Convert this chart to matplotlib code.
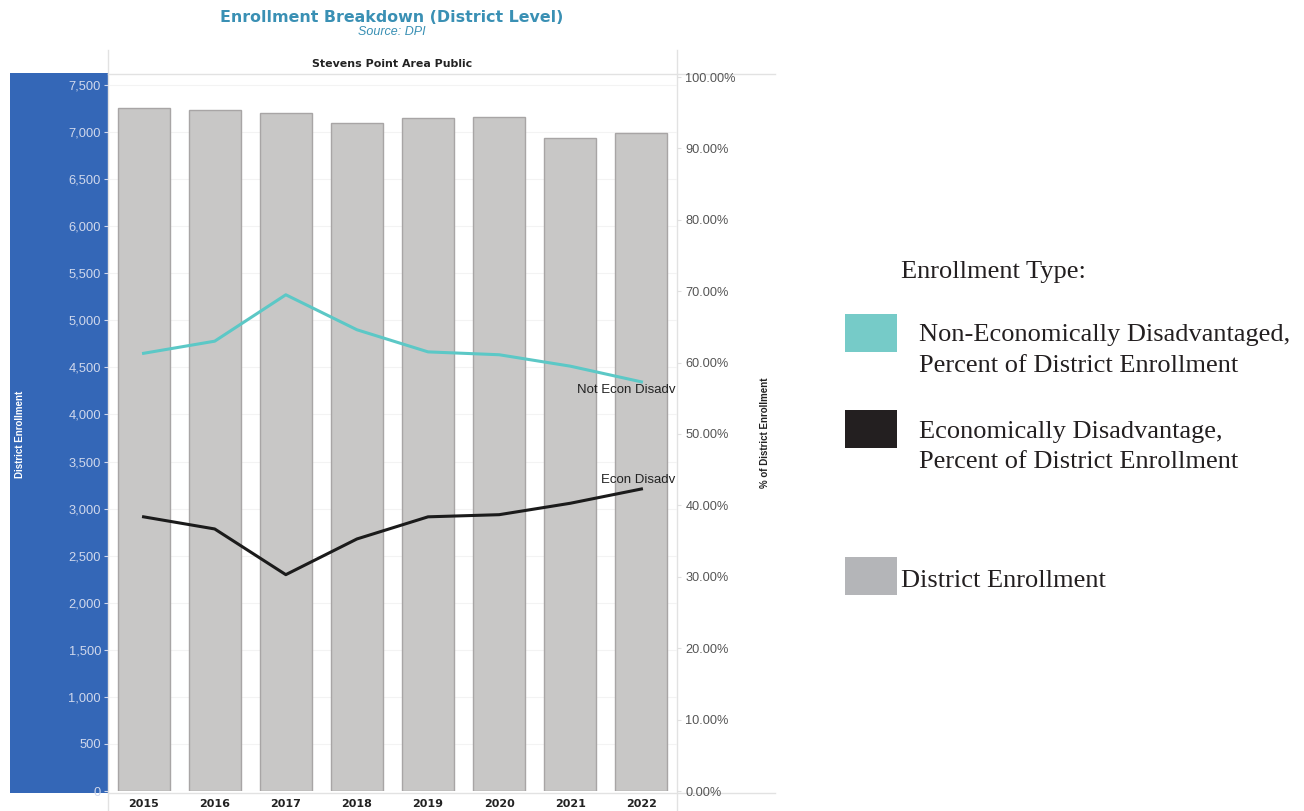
import matplotlib
matplotlib.use("Agg")
import matplotlib.pyplot as plt
from matplotlib.patches import Rectangle
from matplotlib.lines import Line2D
from matplotlib.ticker import FuncFormatter

years = ["2015", "2016", "2017", "2018", "2019", "2020", "2021", "2022"]
enrollment = [7256, 7234, 7202, 7096, 7149, 7160, 6937, 6990]
not_econ_pct = [61.3, 63.0, 69.5, 64.6, 61.5, 61.1, 59.5, 57.3]
econ_pct = [38.4, 36.7, 30.3, 35.3, 38.4, 38.7, 40.3, 42.3]
left_ticks = list(range(0, 7501, 500))
right_ticks = list(range(0, 101, 10))

plt.rcParams["font.family"] = ["Liberation Sans", "DejaVu Sans"]
BOLD = ["DejaVu Sans"]
NARROW = ["Liberation Sans Narrow", "Liberation Sans", "DejaVu Sans"]

W, H = 1304, 811
fig = plt.figure(figsize=(W / 100, H / 100), dpi=100)
fig.patch.set_facecolor("white")

def fx(px):
    return px / W

def fy(py):
    return 1 - py / H

# blue panel for left axis
fig.add_artist(Rectangle((fx(10), fy(793)), fx(108) - fx(10), fy(73) - fy(793),
                         transform=fig.transFigure, facecolor="#3467b7",
                         edgecolor="none", zorder=-1))
# header frame
light = "#e2e2e2"
fig.add_artist(Line2D([fx(108), fx(108)], [fy(50), fy(811)], transform=fig.transFigure,
                      color=light, lw=1, zorder=-1))
fig.add_artist(Line2D([fx(677), fx(677)], [fy(50), fy(811)], transform=fig.transFigure,
                      color=light, lw=1, zorder=-1))
fig.add_artist(Line2D([fx(108), fx(775)], [fy(74), fy(74)], transform=fig.transFigure,
                      color=light, lw=1, zorder=-1))
fig.add_artist(Line2D([fx(108), fx(775)], [fy(793), fy(793)], transform=fig.transFigure,
                      color=light, lw=1, zorder=-1))

ax = fig.add_axes([fx(108), fy(791), fx(677) - fx(108), fy(75) - fy(791)])
x = list(range(len(years)))
ax.bar(x, enrollment, width=0.73, color="#c8c7c6", edgecolor="#a8a5a5", linewidth=1, zorder=2)
ax.set_xlim(-0.5, len(years) - 0.5)
ax.set_ylim(0, 7500 * 716 / 706)
ax.set_yticks(left_ticks)
ax.yaxis.set_major_formatter(FuncFormatter(lambda v, p: f"{int(v):,}"))
ax.tick_params(axis="y", colors="#d0d8ec", labelsize=9.3, length=3, width=0.8, pad=2)
ax.set_xticks(x)
ax.set_xticklabels(years, fontweight="bold", fontsize=8, family=BOLD)
ax.tick_params(axis="x", length=0, pad=6, labelcolor="#222222")
for s in ax.spines.values():
    s.set_visible(False)
ax.grid(axis="y", color="#f3f3f3", lw=0.8, zorder=0)
ax.set_axisbelow(True)
ax.patch.set_alpha(0)

ax2 = ax.twinx()
ax2.set_ylim(0, 100 * 716 / 714)
ax2.plot(x, not_econ_pct, color="#5cc8c6", lw=2.2, zorder=3)
ax2.plot(x, econ_pct, color="#1b1b1b", lw=2.2, zorder=3)
ax2.set_yticks(right_ticks)
ax2.yaxis.set_major_formatter(FuncFormatter(lambda v, p: f"{v:.2f}%"))
ax2.tick_params(axis="y", colors="#e0e0e0", labelcolor="#555555", labelsize=9.2,
                length=3, width=0.8, pad=3)
for s in ax2.spines.values():
    s.set_visible(False)
ax2.text(len(years) - 0.52, not_econ_pct[-1] - 1.1, "Not Econ Disadv", ha="right", va="center",
         fontsize=9.5, color="#222222")
ax2.text(len(years) - 0.52, econ_pct[-1] + 1.3, "Econ Disadv", ha="right", va="center",
         fontsize=9.5, color="#222222")

fig.text(fx(20), fy(434), "District Enrollment", rotation=90, ha="center", va="center",
         color="white", fontsize=7, fontweight="bold", family=NARROW)
fig.text(fx(765), fy(433), "% of District Enrollment", rotation=90, ha="center", va="center",
         color="#222222", fontsize=7, fontweight="bold", family=NARROW)
fig.text(fx(392), fy(64), "Stevens Point Area Public", ha="center", va="center",
         fontsize=7.9, fontweight="bold", color="#222222", family=BOLD)

title_c = "#3a90b4"
fig.text(fx(392), fy(17), "Enrollment Breakdown (District Level)", ha="center", va="center",
         fontsize=11.4, fontweight="bold", color=title_c, family=BOLD)
fig.text(fx(392), fy(32), "Source: DPI", ha="center", va="center",
         fontsize=9, fontstyle="italic", color=title_c)

# custom legend
serif = "Liberation Serif"
lfs = 19
fig.text(fx(901), fy(272), "Enrollment Type:", ha="left", va="center", fontsize=lfs,
         family=serif, color="#231f20")
legend_items = [
    ("#76cbc8", 314, 352, 919, [335, 366],
     ["Non-Economically Disadvantaged,", "Percent of District Enrollment"]),
    ("#231f20", 410, 448, 919, [432, 462],
     ["Economically Disadvantage,", "Percent of District Enrollment"]),
    ("#b4b5b8", 557, 595, 901, [581], ["District Enrollment"]),
]
for col, y0, y1, tx, tys, lines in legend_items:
    fig.add_artist(Rectangle((fx(845), fy(y1)), fx(897) - fx(845), fy(y0) - fy(y1),
                             transform=fig.transFigure, facecolor=col, edgecolor="none"))
    for ty, ln in zip(tys, lines):
        fig.text(fx(tx), fy(ty), ln, ha="left", va="center", fontsize=lfs,
                 family=serif, color="#231f20")

fig.savefig("out.png", dpi=100)
